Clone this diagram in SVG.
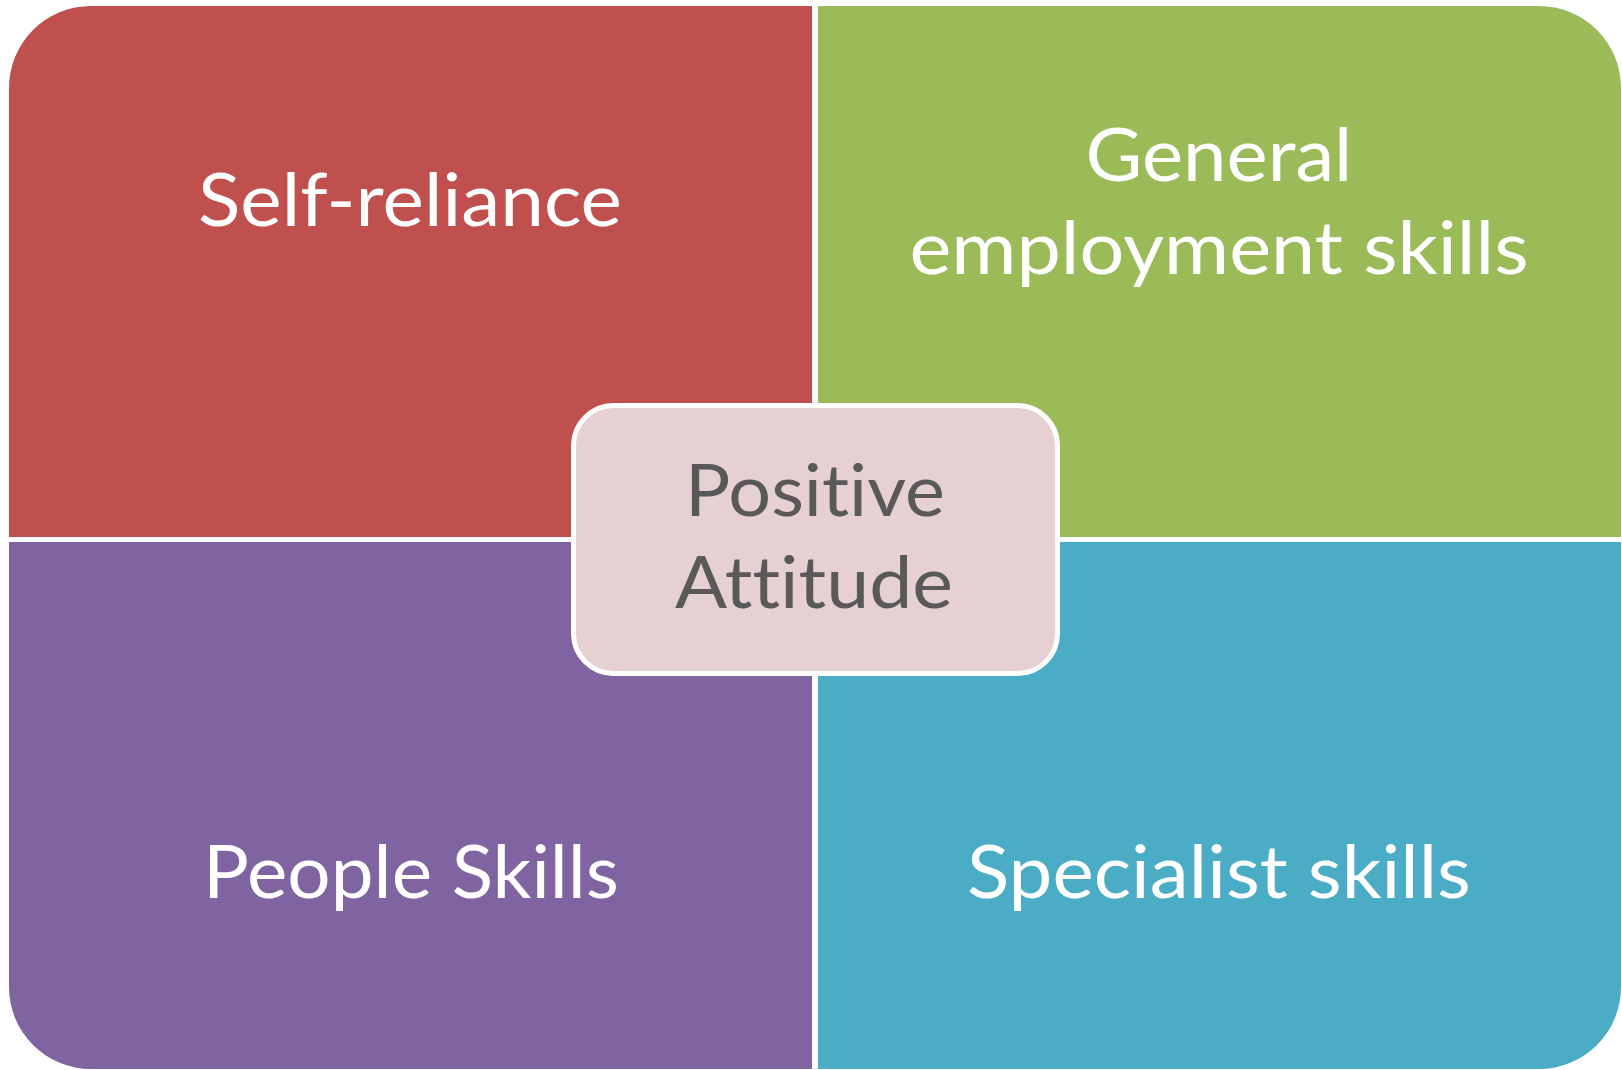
<svg xmlns="http://www.w3.org/2000/svg" width="1622" height="1070" viewBox="0 0 1622 1070">
<style>
text{font-variant-ligatures:none;font-feature-settings:"liga" 0,"clig" 0,"dlig" 0}
.lbl{font-family:Lato,"Open Sans","Liberation Sans",sans-serif;font-size:73px;fill:#ffffff;text-anchor:middle}
.ctr{font-family:Lato,"Open Sans","Liberation Sans",sans-serif;font-size:72px;fill:#595959;text-anchor:middle}
</style>
<rect width="1622" height="1070" fill="#ffffff"/>
<g id="self-reliance">
<path d="M9,537 V88 A82,82 0 0 1 91,6 H812 V537 Z" fill="#C0504D"/>
<text class="lbl" x="410" y="226" textLength="424" lengthAdjust="spacingAndGlyphs">Self-reliance</text>
</g>
<g id="general-employment">
<path d="M818,6 H1539 A82,82 0 0 1 1621,88 V537 H818 Z" fill="#9BBB59"/>
<text class="lbl" x="1219" y="181" textLength="267" lengthAdjust="spacingAndGlyphs">General</text>
<text class="lbl" x="1219" y="274" textLength="619" lengthAdjust="spacingAndGlyphs">employment skills</text>
</g>
<g id="people-skills">
<path d="M9,542 H812 V1069 H91 A82,82 0 0 1 9,987 Z" fill="#8064A2"/>
<text class="lbl" x="411" y="898" textLength="416" lengthAdjust="spacingAndGlyphs">People Skills</text>
</g>
<g id="specialist-skills">
<path d="M818,542 H1621 V987 A82,82 0 0 1 1539,1069 H818 Z" fill="#4BACC6"/>
<text class="lbl" x="1219" y="898" textLength="504" lengthAdjust="spacingAndGlyphs">Specialist skills</text>
</g>
<g id="connectors"></g>
<g id="positive-attitude">
<rect x="573.5" y="405.5" width="484" height="268" rx="40" ry="40" fill="#E7D0D1" stroke="#ffffff" stroke-width="5"/>
<text class="ctr" x="815" y="516" textLength="260" lengthAdjust="spacingAndGlyphs">Positive</text>
<text class="ctr" x="814" y="608" textLength="278" lengthAdjust="spacingAndGlyphs">Attitude</text>
</g>
</svg>
